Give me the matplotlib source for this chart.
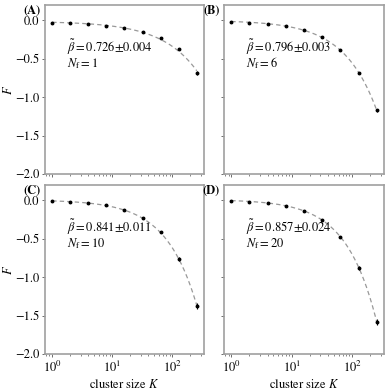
import numpy as np
import matplotlib
matplotlib.use("Agg")
import matplotlib.pyplot as plt

plt.rcParams['font.family'] = ['STIXGeneral', 'DejaVu Serif']
plt.rcParams['mathtext.fontset'] = 'stix'
plt.rcParams['font.size'] = 9

K = [1, 2, 4, 8, 16, 32, 64, 128, 256]
panels = ["(A)", "(B)", "(C)", "(D)"]
N_f = [1, 6, 10, 20]
beta = [0.726, 0.796, 0.841, 0.857]
beta_err = [0.004, 0.003, 0.011, 0.024]
F_A = [-0.04, -0.04, -0.05, -0.07, -0.10, -0.148, -0.226, -0.374, -0.682]
F_B = [-0.017, -0.03, -0.043, -0.074, -0.126, -0.217, -0.39, -0.68, -1.17]
F_C = [-0.009, -0.022, -0.039, -0.065, -0.126, -0.23, -0.417, -0.76, -1.37]
F_D = [-0.004, -0.017, -0.035, -0.07, -0.135, -0.25, -0.474, -0.878, -1.578]
err_A = [0.004, 0.004, 0.004, 0.005, 0.005, 0.006, 0.008, 0.012, 0.025]
err_B = [0.004, 0.004, 0.004, 0.005, 0.005, 0.006, 0.008, 0.012, 0.02]
err_C = [0.004, 0.004, 0.004, 0.005, 0.006, 0.008, 0.012, 0.025, 0.04]
err_D = [0.004, 0.004, 0.004, 0.005, 0.006, 0.008, 0.012, 0.025, 0.04]
F_all = [F_A, F_B, F_C, F_D]
err_all = [err_A, err_B, err_C, err_D]

fig = plt.figure(figsize=(3.9, 3.9), dpi=100)
lefts = [45/390, 224/390]
widths = [159/390, 160/390]
bottoms = [1 - 174/390, 1 - 354/390]
height = 169/390

spine_col = '#a0a0a0'
for i in range(4):
    r, c = divmod(i, 2)
    ax = fig.add_axes([lefts[c], bottoms[r], widths[c], height])
    Kx = np.array(K, dtype=float)
    F = np.array(F_all[i])
    # least-squares fit F = a - c*K^beta with given beta
    A = np.vstack([np.ones_like(Kx), -Kx**beta[i]]).T
    coef, *_ = np.linalg.lstsq(A, F, rcond=None)
    kk = np.logspace(0, np.log10(256), 200)
    ax.plot(kk, coef[0] - coef[1]*kk**beta[i], ls=(0, (3.5, 2.5)), color='#999999', lw=0.9, zorder=1)
    ax.errorbar(Kx, F, yerr=err_all[i], fmt='o', color='black', ms=1.8,
                elinewidth=0.8, capsize=0, zorder=2)
    ax.set_xscale('log')
    ax.set_ylim(-2.0, 0.2)
    ax.set_yticks([0.0, -0.5, -1.0, -1.5, -2.0])
    for s in ax.spines.values():
        s.set_color(spine_col)
        s.set_linewidth(1.2)
    ax.tick_params(which='both', direction='out', color='#555555', labelsize=9, pad=1.5)
    ax.tick_params(which='major', length=2.5, width=0.6)
    ax.tick_params(which='minor', length=1.5, width=0.5)
    if c == 1:
        ax.tick_params(labelleft=False)
    else:
        ax.set_ylabel(r'$F$')
        ax.yaxis.set_label_coords(-0.19, 0.5)
    if r == 0:
        ax.tick_params(labelbottom=False)
    else:
        ax.set_xlabel(r'cluster size $K$')
        ax.xaxis.set_label_coords(0.5, -0.14)
    ax.text(-0.025, 1.0, panels[i], transform=ax.transAxes, ha='right', va='top',
            fontweight='bold', fontsize=9)
    ax.text(0.14, 0.75, r'$\tilde{\beta}=%.3f{\pm}%.3f$' % (beta[i], beta_err[i]),
            transform=ax.transAxes, ha='left', va='center', fontsize=9)
    ax.text(0.14, 0.655, r'$N_\mathrm{f}=%d$' % N_f[i],
            transform=ax.transAxes, ha='left', va='center', fontsize=9)

fig.savefig('out.png', dpi=100)
